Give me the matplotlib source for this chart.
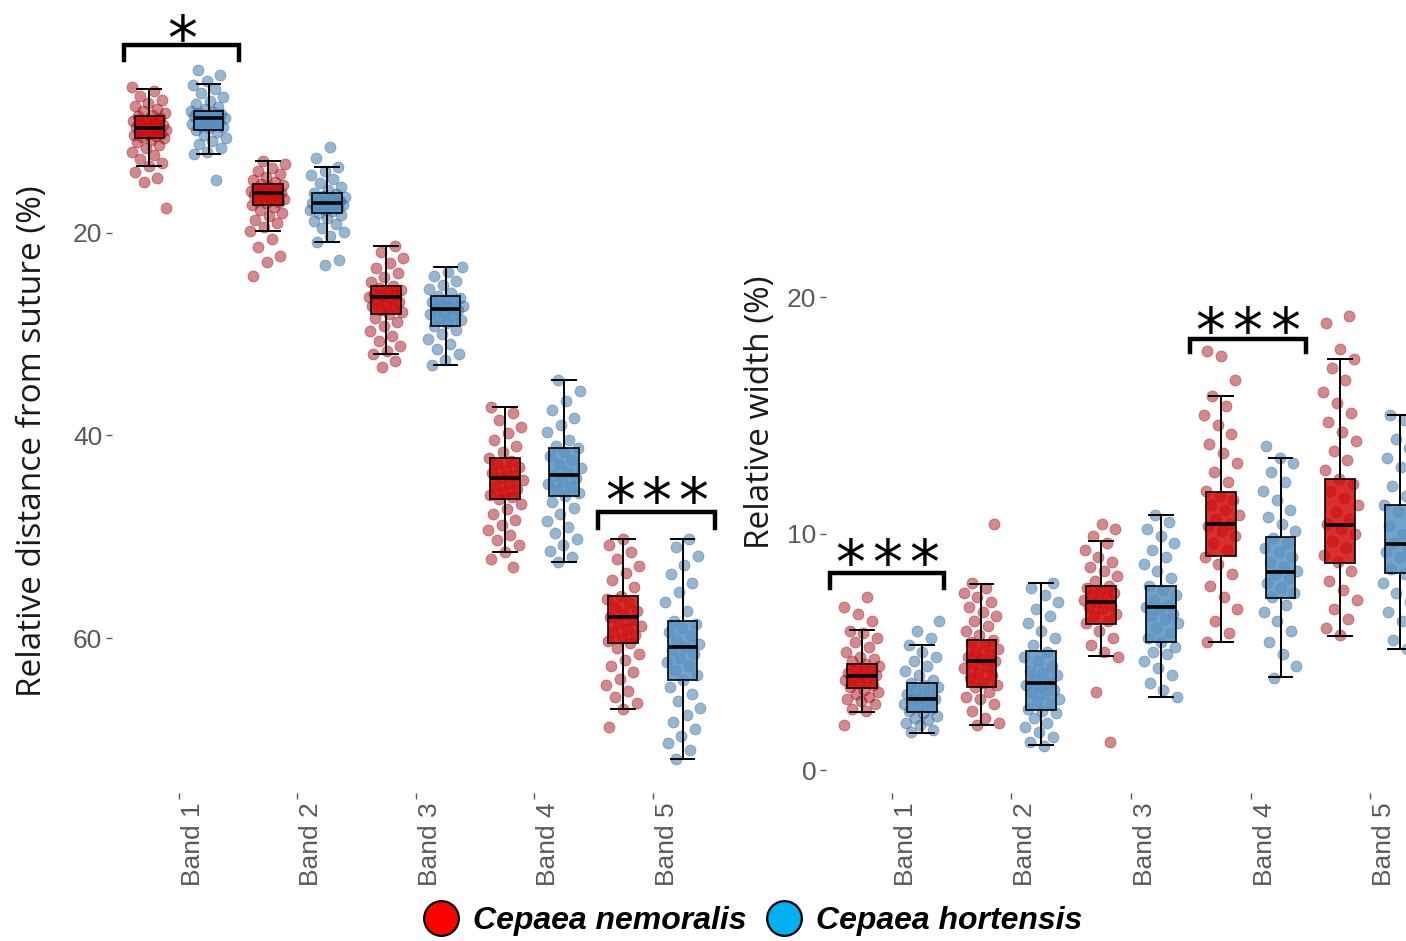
import numpy as np
import matplotlib
matplotlib.use("Agg")
import matplotlib.pyplot as plt
from matplotlib.lines import Line2D
from matplotlib.transforms import ScaledTranslation

bands = ["Band 1", "Band 2", "Band 3", "Band 4", "Band 5"]
species = ["Cepaea nemoralis", "Cepaea hortensis"]

# box stats per band: (lower whisker, q1, median, q3, upper whisker)
dist_nem_stats = [(5.8, 8.5, 9.6, 10.6, 13.4), (12.9, 15.2, 16.1, 17.2, 19.8),
                  (21.3, 25.2, 26.3, 28.0, 32.0), (37.2, 42.2, 44.2, 46.3, 51.5),
                  (50.2, 55.8, 57.9, 60.5, 67.0)]
dist_hor_stats = [(5.3, 8.0, 8.7, 9.8, 12.2), (13.5, 16.1, 17.0, 18.0, 20.9),
                  (23.4, 26.2, 27.5, 29.2, 33.0), (34.5, 41.2, 43.9, 46.0, 52.5),
                  (50.2, 58.3, 60.9, 64.1, 71.9)]
width_nem_stats = [(2.47, 3.48, 3.96, 4.49, 5.94), (1.91, 3.53, 4.6, 5.51, 7.88),
                   (4.82, 6.17, 7.1, 7.78, 9.7), (5.41, 9.05, 10.4, 11.75, 15.8),
                   (5.67, 8.75, 10.36, 12.3, 17.4)]
width_hor_stats = [(1.58, 2.47, 2.99, 3.67, 5.29), (1.04, 2.56, 3.67, 5.04, 7.91),
                   (3.09, 5.41, 6.89, 7.78, 10.8), (3.93, 7.27, 8.37, 9.85, 13.2),
                   (5.12, 8.33, 9.56, 11.2, 15.0)]

dist_nem_pts = [
    [5.6, 6.0, 6.5, 6.9, 7.2, 7.5, 7.8, 8.0, 8.2, 8.4, 8.5, 8.7, 8.8, 8.9, 9.0, 9.2, 9.3, 9.4, 9.5, 9.6, 9.7, 9.8,
     9.9, 10.0, 10.1, 10.2, 10.3, 10.4, 10.5, 10.6, 10.8, 11.0, 11.3, 11.6, 12.0, 12.3, 12.7, 13.1, 13.4, 14.0, 14.6, 15.0, 17.5],
    [12.9, 13.2, 13.6, 13.9, 14.2, 14.5, 14.8, 15.0, 15.2, 15.3, 15.5, 15.6, 15.7, 15.8, 15.9, 16.0, 16.1, 16.1, 16.2,
     16.3, 16.4, 16.5, 16.6, 16.7, 16.8, 16.9, 17.0, 17.2, 17.4, 17.7, 18.0, 18.3, 18.7, 19.0, 19.4, 19.8, 20.6, 21.4, 22.3, 22.9, 24.3],
    [21.3, 21.9, 22.5, 23.0, 23.5, 24.0, 24.4, 24.8, 25.2, 25.4, 25.6, 25.8, 26.0, 26.1, 26.2, 26.3, 26.4, 26.6, 26.8,
     27.0, 27.2, 27.4, 27.6, 27.8, 28.0, 28.4, 28.8, 29.2, 29.7, 30.2, 30.7, 31.2, 31.7, 32.0, 32.6, 33.2],
    [37.2, 37.8, 38.5, 39.2, 39.8, 40.4, 41.0, 41.6, 42.2, 42.5, 42.8, 43.1, 43.4, 43.7, 44.0, 44.2, 44.4, 44.7, 45.0,
     45.3, 45.6, 45.9, 46.1, 46.3, 46.8, 47.3, 47.8, 48.3, 48.8, 49.3, 49.8, 50.3, 50.8, 51.5, 52.2, 53.0],
    [50.2, 50.8, 51.5, 52.2, 52.9, 53.6, 54.3, 55.0, 55.8, 56.1, 56.5, 56.9, 57.3, 57.6, 57.9, 58.2, 58.5, 58.8, 59.1,
     59.4, 59.7, 60.0, 60.3, 60.5, 61.0, 61.6, 62.2, 62.8, 63.4, 64.0, 64.6, 65.2, 65.8, 66.4, 67.0, 68.8],
]
dist_hor_pts = [
    [3.9, 4.4, 5.0, 5.4, 5.8, 6.2, 6.6, 7.0, 7.3, 7.6, 7.8, 8.0, 8.1, 8.2, 8.3, 8.4, 8.5, 8.6, 8.7, 8.7, 8.8, 8.9,
     9.0, 9.1, 9.2, 9.3, 9.4, 9.5, 9.6, 9.8, 10.0, 10.3, 10.6, 10.9, 11.2, 11.6, 12.0, 12.2, 14.8],
    [11.5, 12.6, 13.5, 13.9, 14.3, 14.7, 15.1, 15.5, 15.8, 16.1, 16.2, 16.4, 16.5, 16.6, 16.7, 16.8, 16.9, 17.0, 17.0,
     17.1, 17.2, 17.3, 17.4, 17.5, 17.6, 17.7, 17.8, 18.0, 18.2, 18.5, 18.8, 19.1, 19.5, 19.9, 20.3, 20.9, 22.7, 23.2],
    [23.4, 23.9, 24.3, 24.7, 25.1, 25.5, 25.9, 26.2, 26.4, 26.6, 26.8, 27.0, 27.1, 27.2, 27.3, 27.4, 27.6, 27.8, 28.0,
     28.2, 28.4, 28.6, 28.9, 29.2, 29.6, 30.0, 30.5, 31.0, 31.5, 32.0, 32.5, 33.0],
    [34.5, 35.6, 36.6, 37.5, 38.3, 39.0, 39.7, 40.4, 41.0, 41.2, 41.6, 42.0, 42.4, 42.8, 43.2, 43.6, 43.9, 44.2, 44.5,
     44.8, 45.1, 45.4, 45.7, 46.0, 46.6, 47.2, 47.8, 48.4, 49.0, 49.6, 50.2, 50.8, 51.4, 52.0, 52.5],
    [50.2, 51.0, 51.9, 52.8, 53.7, 54.6, 55.5, 56.4, 57.3, 58.3, 58.6, 59.0, 59.4, 59.8, 60.2, 60.6, 60.9, 61.2, 61.6,
     62.0, 62.4, 62.8, 63.2, 63.6, 64.1, 64.8, 65.5, 66.2, 66.9, 67.6, 68.3, 69.0, 69.7, 70.4, 71.1, 71.9],
]
width_nem_pts = [
    [1.9, 2.5, 2.6, 2.8, 2.9, 3.0, 3.1, 3.2, 3.3, 3.4, 3.5, 3.6, 3.7, 3.8, 3.9, 3.9, 4.0, 4.0, 4.1, 4.2, 4.3, 4.4,
     4.5, 4.6, 4.7, 4.8, 5.0, 5.2, 5.4, 5.6, 5.8, 5.9, 6.3, 6.6, 6.9, 7.3],
    [1.9, 2.0, 2.2, 2.5, 2.8, 3.0, 3.1, 3.3, 3.5, 3.6, 3.7, 3.9, 4.0, 4.1, 4.3, 4.4, 4.5, 4.6, 4.7, 4.8, 4.9, 5.0,
     5.1, 5.3, 5.4, 5.5, 5.7, 5.9, 6.1, 6.3, 6.5, 6.7, 6.9, 7.1, 7.3, 7.5, 7.7, 7.9, 10.4],
    [1.2, 3.3, 4.8, 5.0, 5.3, 5.6, 5.9, 6.2, 6.3, 6.5, 6.6, 6.8, 6.9, 7.0, 7.1, 7.2, 7.3, 7.4, 7.5, 7.6, 7.7, 7.8,
     8.0, 8.2, 8.4, 8.6, 8.8, 9.0, 9.3, 9.6, 9.9, 10.2, 10.4],
    [5.4, 5.8, 6.3, 6.8, 7.3, 7.8, 8.3, 8.7, 9.0, 9.3, 9.6, 9.9, 10.1, 10.3, 10.4, 10.6, 10.8, 11.0, 11.2, 11.4, 11.6,
     11.8, 12.2, 12.6, 13.0, 13.4, 13.8, 14.2, 14.6, 15.0, 15.4, 15.8, 16.5, 17.5, 17.7],
    [5.7, 6.0, 6.4, 6.8, 7.2, 7.6, 8.0, 8.4, 8.8, 9.1, 9.4, 9.7, 10.0, 10.2, 10.4, 10.6, 10.9, 11.2, 11.5, 11.8, 12.1,
     12.3, 12.7, 13.1, 13.5, 13.9, 14.3, 14.7, 15.1, 15.5, 16.0, 16.5, 17.0, 17.4, 17.8, 18.9, 19.2],
]
width_hor_pts = [
    [1.6, 1.7, 1.9, 2.0, 2.1, 2.2, 2.3, 2.4, 2.5, 2.6, 2.7, 2.8, 2.9, 3.0, 3.0, 3.1, 3.2, 3.3, 3.4, 3.5, 3.6, 3.7,
     3.8, 4.0, 4.2, 4.4, 4.6, 4.8, 5.0, 5.3, 5.6, 5.9, 6.3],
    [1.0, 1.2, 1.4, 1.6, 1.8, 2.0, 2.2, 2.4, 2.5, 2.6, 2.8, 2.9, 3.0, 3.2, 3.3, 3.4, 3.5, 3.6, 3.7, 3.8, 4.0, 4.1,
     4.2, 4.4, 4.6, 4.8, 5.0, 5.3, 5.6, 5.9, 6.2, 6.5, 6.8, 7.1, 7.4, 7.7, 7.9],
    [3.1, 3.4, 3.7, 4.0, 4.3, 4.6, 4.9, 5.0, 5.2, 5.4, 5.6, 5.8, 6.0, 6.2, 6.4, 6.5, 6.6, 6.8, 6.9, 7.0, 7.2, 7.4,
     7.6, 7.8, 8.1, 8.4, 8.7, 9.0, 9.3, 9.6, 9.9, 10.2, 10.5, 10.8],
    [3.9, 4.4, 4.9, 5.4, 5.9, 6.3, 6.7, 7.0, 7.3, 7.5, 7.7, 7.9, 8.1, 8.3, 8.4, 8.6, 8.8, 9.0, 9.2, 9.4, 9.6, 9.8,
     10.1, 10.4, 10.7, 11.0, 11.4, 11.8, 12.2, 12.6, 13.0, 13.2, 13.7],
    [5.1, 5.5, 5.9, 6.3, 6.7, 7.1, 7.5, 7.9, 8.3, 8.5, 8.8, 9.0, 9.2, 9.4, 9.6, 9.8, 10.0, 10.3, 10.6, 10.9, 11.2,
     11.6, 12.0, 12.4, 12.8, 13.2, 13.6, 14.0, 14.4, 14.8, 15.0, 15.9],
]

nem_box = "#d20a0a"
hor_box = "#5a92c2"
nem_pt = "#a8121c"
hor_pt = "#336ea3"
tick_gray = "#595959"

W, H = 1406, 941
fig = plt.figure(figsize=(W / 100, H / 100), dpi=100)


def px_axes(left, right, top, bottom):
    return fig.add_axes([left / W, 1 - bottom / H, (right - left) / W, (bottom - top) / H])


def draw_panel(ax, nem_stats, hor_stats, nem_pts, hor_pts):
    pos = np.arange(1, len(bands) + 1)
    groups = [(nem_pts, nem_stats, -0.25, nem_pt, nem_box), (hor_pts, hor_stats, 0.25, hor_pt, hor_box)]
    for gi, (pts, stats, off, pc, bc) in enumerate(groups):
        for bi, vals in enumerate(pts):
            k = np.arange(len(vals))
            jit = ((k * 0.618034 + bi * 0.37 + gi * 0.21) % 1 - 0.5) * 0.3
            ax.scatter(pos[bi] + off + jit, vals, s=62, color=pc, alpha=0.5,
                       edgecolors=pc, linewidths=0.6, zorder=1)
        bstats = [dict(whislo=s[0], q1=s[1], med=s[2], q3=s[3], whishi=s[4], fliers=[]) for s in stats]
        ax.bxp(bstats, positions=pos + off, widths=0.25, patch_artist=True, showfliers=False,
               manage_ticks=False, capwidths=0.2, zorder=2,
               boxprops=dict(facecolor=bc, edgecolor="black", linewidth=1.4, alpha=0.85),
               medianprops=dict(color="black", linewidth=2.6),
               whiskerprops=dict(color="black", linewidth=1.4),
               capprops=dict(color="black", linewidth=1.4))
    for sp in ax.spines.values():
        sp.set_visible(False)
    ax.set_xticks(pos)
    ax.set_xticklabels(bands, rotation=90, fontsize=19, color=tick_gray, family="Liberation Sans")
    ax.tick_params(axis="both", length=4, width=1, color=tick_gray, pad=3)
    for lab in ax.get_yticklabels():
        lab.set_fontsize(19)
        lab.set_color(tick_gray)
        lab.set_family("Liberation Sans")
    for lab in ax.get_xticklabels():
        lab.set_transform(lab.get_transform() + ScaledTranslation(14 / 100, 0, fig.dpi_scale_trans))


def bracket(ax, x0, x1, ytop, ybot, nstars, ystar):
    ax.plot([x0, x0, x1, x1], [ybot, ytop, ytop, ybot], color="black", lw=3.2,
            solid_joinstyle="miter", clip_on=False, zorder=5)
    mid = (x0 + x1) / 2
    for j in range(nstars):
        ax.text(mid + (j - (nstars - 1) / 2) * 0.31, ystar, "*", ha="center", va="center",
                fontsize=43, family="DejaVu Sans", clip_on=False)


# left panel: relative distance from suture
ax1 = px_axes(112, 724, 0, 793)
ax1.set_xlim(0.435, 5.6)
ax1.set_ylim(75.3, -3.0)
ax1.set_yticks([20, 40, 60])
draw_panel(ax1, dist_nem_stats, dist_hor_stats, dist_nem_pts, dist_hor_pts)
bracket(ax1, 0.54, 1.51, 1.4, 2.9, 1, 1.2)
bracket(ax1, 4.54, 5.52, 47.6, 49.1, 3, 46.8)

# right panel: relative width
ax2 = px_axes(826, 1442, 0, 793)
ax2.set_xlim(0.45, 5.6)
ax2.set_ylim(-0.97, 32.56)
ax2.set_yticks([0, 10, 20])
draw_panel(ax2, width_nem_stats, width_hor_stats, width_nem_pts, width_hor_pts)
bracket(ax2, 0.48, 1.44, 8.33, 7.70, 3, 8.6)
bracket(ax2, 3.49, 4.46, 18.22, 17.67, 3, 18.4)

fig.text(33 / W, 1 - 441 / H, "Relative distance from suture (%)", rotation=90, ha="center",
         va="center", fontsize=24, family="Open Sans", color="#1a1a1a")
fig.text(760 / W, 1 - 412 / H, "Relative width (%)", rotation=90, ha="center",
         va="center", fontsize=24, family="Open Sans", color="#1a1a1a")

handles = [Line2D([], [], ls="none", marker="o", markersize=25, markerfacecolor=c,
                  markeredgecolor="black", markeredgewidth=1.6) for c in ["#ff0000", "#00b0f0"]]
fig.legend(handles, species, loc="center", bbox_to_anchor=(752 / W, 1 - 921 / H), ncol=2,
           frameon=False, handletextpad=0.4, columnspacing=0.6, borderpad=0, handlelength=1.2,
           prop=dict(family="Liberation Sans", weight="bold", style="italic", size=23))

fig.savefig("out.png", dpi=100)
